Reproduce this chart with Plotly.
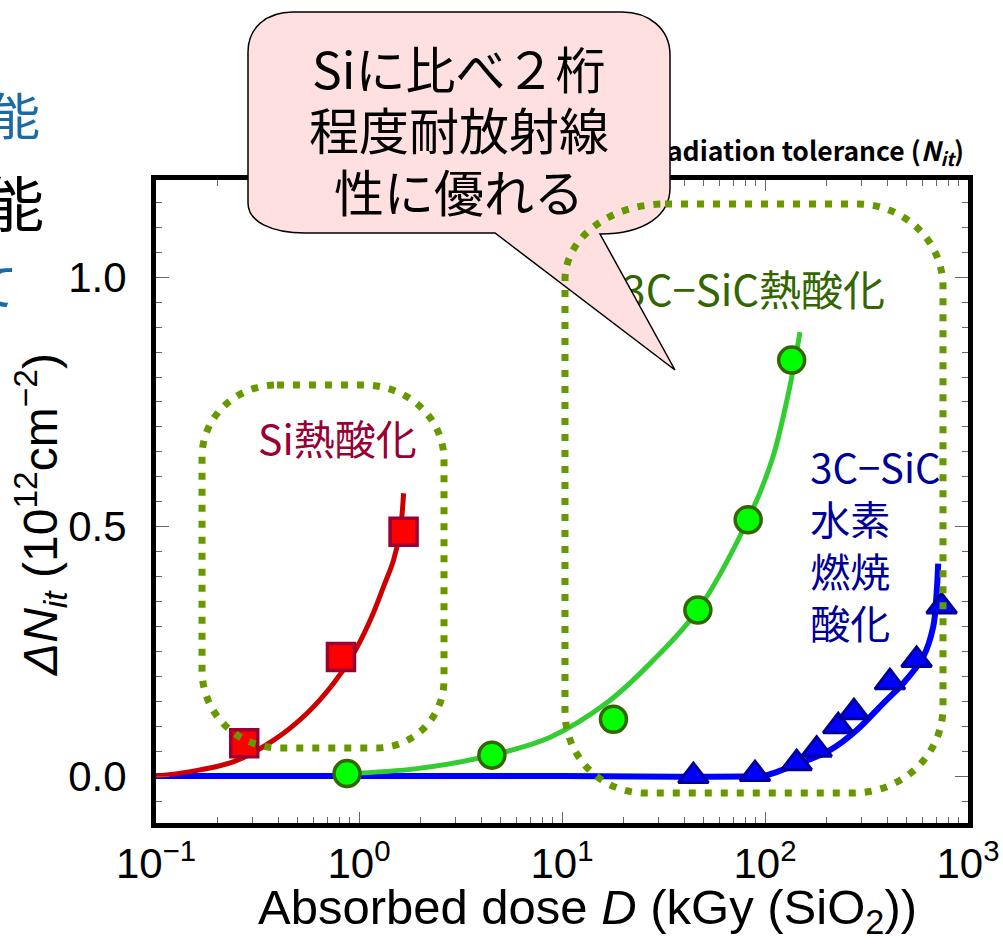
import plotly.graph_objects as go

# ---------------- data ----------------
# Si thermal oxide: measured points and trend line
si_dose = [0.272, 0.815, 1.658]
si_dnit = [0.066, 0.239, 0.490]
si_fit_dose = [0.1, 0.148, 0.2415, 0.380, 0.555, 0.750, 0.9406, 1.137, 1.3215, 1.480, 1.597, 1.658]
si_fit_dnit = [0.0, 0.009, 0.029, 0.072, 0.126, 0.186, 0.246, 0.313, 0.380, 0.433, 0.493, 0.567]

# 3C-SiC thermal oxide
sic_th_dose = [0.873, 4.516, 17.92, 46.7, 82.6, 135.3]
sic_th_dnit = [0.005, 0.042, 0.114, 0.333, 0.514, 0.834]
sic_th_fit_dose = [0.873, 1.928, 4.516, 8.75, 16.63, 27.2, 46.7, 82.6, 108.3, 128.3, 142.1, 148.7]
sic_th_fit_dnit = [0.005, 0.015, 0.042, 0.078, 0.147, 0.226, 0.333, 0.515, 0.634, 0.754, 0.844, 0.890]

# 3C-SiC pyrogenic (hydrogen combustion) oxide
sic_py_dose = [44.4, 89.3, 143.2, 179.7, 229.5, 274.2, 412.5, 558.1, 741.2]
sic_py_dnit = [0.0, 0.004, 0.026, 0.053, 0.100, 0.128, 0.188, 0.233, 0.340]
sic_py_fit_dose = [0.1, 1.0, 10.0, 94.5, 101.9, 148.7, 208.9, 282.7, 382.3, 479.6, 601.6, 673.7, 700.1, 713.0]
sic_py_fit_dnit = [0.0, 0.0, 0.0, 0.0, 0.002, 0.026, 0.052, 0.092, 0.146, 0.186, 0.239, 0.299, 0.366, 0.426]

x_tick_vals = [0.1, 1, 10, 100, 1000]
x_tick_text = ["10<sup>−1</sup>", "10<sup>0</sup>", "10<sup>1</sup>", "10<sup>2</sup>", "10<sup>3</sup>"]
y_tick_vals = [0.0, 0.5, 1.0]
y_tick_text = ["0.0", "0.5", "1.0"]

# ---------------- page geometry (pixels) ----------------
W, H = 1003, 947
X0, X1, Y0, Y1 = 156, 968, 180, 823   # plot frame: left, right, top, bottom
JP = "Noto Sans CJK JP"
LAT = "Liberation Sans, Arial, sans-serif"


def fx(x):
    return x / W


def fy(y):
    return 1 - y / H


def P(x, y):
    return f"{fx(x):.5f},{fy(y):.5f}"


def rounded_rect(x0, y0, x1, y1, tl, tr, br, bl):
    k = 0.5523
    return (
        f"M {P(x0 + tl[0], y0)} L {P(x1 - tr[0], y0)} "
        f"C {P(x1 - tr[0] + k * tr[0], y0)} {P(x1, y0 + tr[1] - k * tr[1])} {P(x1, y0 + tr[1])} "
        f"L {P(x1, y1 - br[1])} "
        f"C {P(x1, y1 - br[1] + k * br[1])} {P(x1 - br[0] + k * br[0], y1)} {P(x1 - br[0], y1)} "
        f"L {P(x0 + bl[0], y1)} "
        f"C {P(x0 + bl[0] - k * bl[0], y1)} {P(x0, y1 - bl[1] + k * bl[1])} {P(x0, y1 - bl[1])} "
        f"L {P(x0, y0 + tl[1])} "
        f"C {P(x0, y0 + tl[1] - k * tl[1])} {P(x0 + tl[0] - k * tl[0], y0)} {P(x0 + tl[0], y0)} Z"
    )


fig = go.Figure()

# trend curves
fig.add_trace(go.Scatter(x=sic_py_fit_dose, y=sic_py_fit_dnit, mode="lines",
                         line=dict(color="#0000ff", width=6, shape="spline"), hoverinfo="skip"))
fig.add_trace(go.Scatter(x=si_fit_dose, y=si_fit_dnit, mode="lines",
                         line=dict(color="#cc0000", width=5, shape="spline"), hoverinfo="skip"))
fig.add_trace(go.Scatter(x=sic_th_fit_dose, y=sic_th_fit_dnit, mode="lines",
                         line=dict(color="#33cc33", width=5, shape="spline"), hoverinfo="skip"))

# measured points
fig.add_trace(go.Scatter(x=si_dose, y=si_dnit, mode="markers",
                         marker=dict(symbol="square", size=27, color="#ff0000",
                                     line=dict(color="#990033", width=3.5))))
fig.add_trace(go.Scatter(x=sic_th_dose, y=sic_th_dnit, mode="markers",
                         marker=dict(symbol="circle", size=26, color="#00ff00",
                                     line=dict(color="#336600", width=3.5))))
fig.add_trace(go.Scatter(x=sic_py_dose, y=sic_py_dnit, mode="markers",
                         marker=dict(symbol="triangle-up", size=26, color="#0000ff",
                                     line=dict(color="#000099", width=3))))

# series labels inside the plot
fig.add_trace(go.Scatter(x=[0.782], y=[0.6636], mode="text", text=["Si熱酸化"],
                         textposition="middle center",
                         textfont=dict(family=JP, size=41, color="#990033"), hoverinfo="skip"))
fig.add_trace(go.Scatter(x=[88.0], y=[0.964], mode="text", text=["3C−SiC熱酸化"],
                         textposition="middle center",
                         textfont=dict(family=JP, size=42, color="#336600"), hoverinfo="skip"))
fig.add_trace(go.Scatter(x=[167.0], y=[0.451], mode="text", text=["3C−SiC<br>水素<br>燃焼<br>酸化"],
                         textposition="middle right",
                         textfont=dict(family=JP, size=40, color="#000099"), hoverinfo="skip"))

# panel heading above the frame, on a full-page overlay subplot (pixel coordinates)
fig.add_trace(go.Scatter(x=[964], y=[154], xaxis="x2", yaxis="y2", mode="text",
                         text=["<b>Radiation tolerance (<i>N<sub>it</sub></i>)</b>"],
                         textposition="middle left",
                         textfont=dict(family=JP, size=26.5, color="#000000"), hoverinfo="skip"))

# callout balloon
callout = (
    f"M {P(293, 12)} L {P(622, 12)} C {P(648, 12)} {P(670, 28)} {P(670, 55)} "
    f"L {P(670, 188)} C {P(670, 215)} {P(645, 234)} {P(600, 234)} "
    f"L {P(675, 370)} L {P(495, 233)} L {P(305, 233)} "
    f"C {P(272, 233)} {P(248, 222)} {P(248, 203)} L {P(248, 52)} "
    f"C {P(248, 28)} {P(266, 12)} {P(293, 12)} Z"
)
shapes = [
    dict(type="path", path=callout, xref="paper", yref="paper", layer="above",
         fillcolor="#ffe0e0", line=dict(color="#000000", width=1.5)),
    dict(type="path", xref="paper", yref="paper", layer="above",
         path=rounded_rect(202, 385, 444, 748, (75, 72), (80, 75), (68, 68), (78, 78)),
         line=dict(color="#669900", width=7, dash="7px,9px")),
    dict(type="path", xref="paper", yref="paper", layer="above",
         path=rounded_rect(565, 204, 943, 793, (100, 76), (86, 83), (90, 86), (80, 82)),
         line=dict(color="#669900", width=7, dash="7px,9px")),
]

annotations = [
    dict(text="Siに比べ２桁", x=fx(459), y=fy(67)),
    dict(text="程度耐放射線", x=fx(459), y=fy(128)),
    dict(text="性に優れる", x=fx(459), y=fy(190)),
]
for a in annotations:
    a.update(xref="paper", yref="paper", showarrow=False, xanchor="center", yanchor="middle",
             font=dict(family=JP, size=50, color="#000000"))

annotations += [
    # slide text continuing off the left edge
    dict(text="能", x=fx(42), y=fy(113), xref="paper", yref="paper", showarrow=False,
         xanchor="right", yanchor="middle", font=dict(family=JP, size=50, color="#1b6aa5")),
    dict(text="能", x=fx(46), y=fy(200), xref="paper", yref="paper", showarrow=False,
         xanchor="right", yanchor="middle", font=dict(family=JP, size=60, color="#000000")),
    dict(text="て", x=fx(20), y=fy(283), xref="paper", yref="paper", showarrow=False,
         xanchor="right", yanchor="middle", font=dict(family=JP, size=50, color="#1b6aa5")),
    # axis titles
    dict(text="Absorbed dose <i>D</i> (kGy (SiO<sub>2</sub>))", x=fx(587), y=fy(910),
         xref="paper", yref="paper", showarrow=False, xanchor="center", yanchor="middle",
         font=dict(family=LAT, size=49, color="#000000")),
    dict(text="<i>ΔN</i><sub><i>it</i></sub> (10<sup>12</sup>cm<sup>−2</sup>)", x=fx(40), y=fy(515),
         xref="paper", yref="paper", showarrow=False, xanchor="center", yanchor="middle",
         textangle=-90, font=dict(family=LAT, size=48, color="#000000")),
]

axis_common = dict(showline=True, linewidth=5, linecolor="#000000", mirror="ticks",
                   ticks="inside", tickwidth=1, tickcolor="#666666", showgrid=False,
                   zeroline=False, tickfont=dict(family=LAT, size=42, color="#000000"))

minor_x = [m * 10 ** e for e in range(-1, 3) for m in range(2, 10)]

fig.update_layout(
    width=W, height=H, margin=dict(l=0, r=0, t=0, b=0, autoexpand=False),
    paper_bgcolor="#ffffff", plot_bgcolor="rgba(0,0,0,0)", showlegend=False,
    xaxis=dict(type="log", range=[-1, 3], domain=[fx(X0), fx(X1)], anchor="y",
               tickmode="array", tickvals=x_tick_vals, ticktext=x_tick_text, ticklen=11,
               ticklabelstandoff=0,
               minor=dict(tickmode="array", tickvals=minor_x, ticks="inside", ticklen=6,
                          tickwidth=1, tickcolor="#666666", showgrid=False),
               **axis_common),
    yaxis=dict(range=[-0.094, 1.195], domain=[fy(Y1), fy(Y0)], anchor="x",
               tickmode="array", tickvals=y_tick_vals, ticktext=y_tick_text, ticklen=13,
               ticklabelstandoff=16,
               minor=dict(dtick=0.05, tick0=0, ticks="inside", ticklen=6,
                          tickwidth=1, tickcolor="#666666", showgrid=False),
               **axis_common),
    xaxis2=dict(range=[0, W], domain=[0, 1], anchor="y2", visible=False, fixedrange=True),
    yaxis2=dict(range=[H, 0], domain=[0, 1], anchor="x2", visible=False, fixedrange=True),
    shapes=shapes, annotations=annotations,
)

fig.write_html("out.html")
